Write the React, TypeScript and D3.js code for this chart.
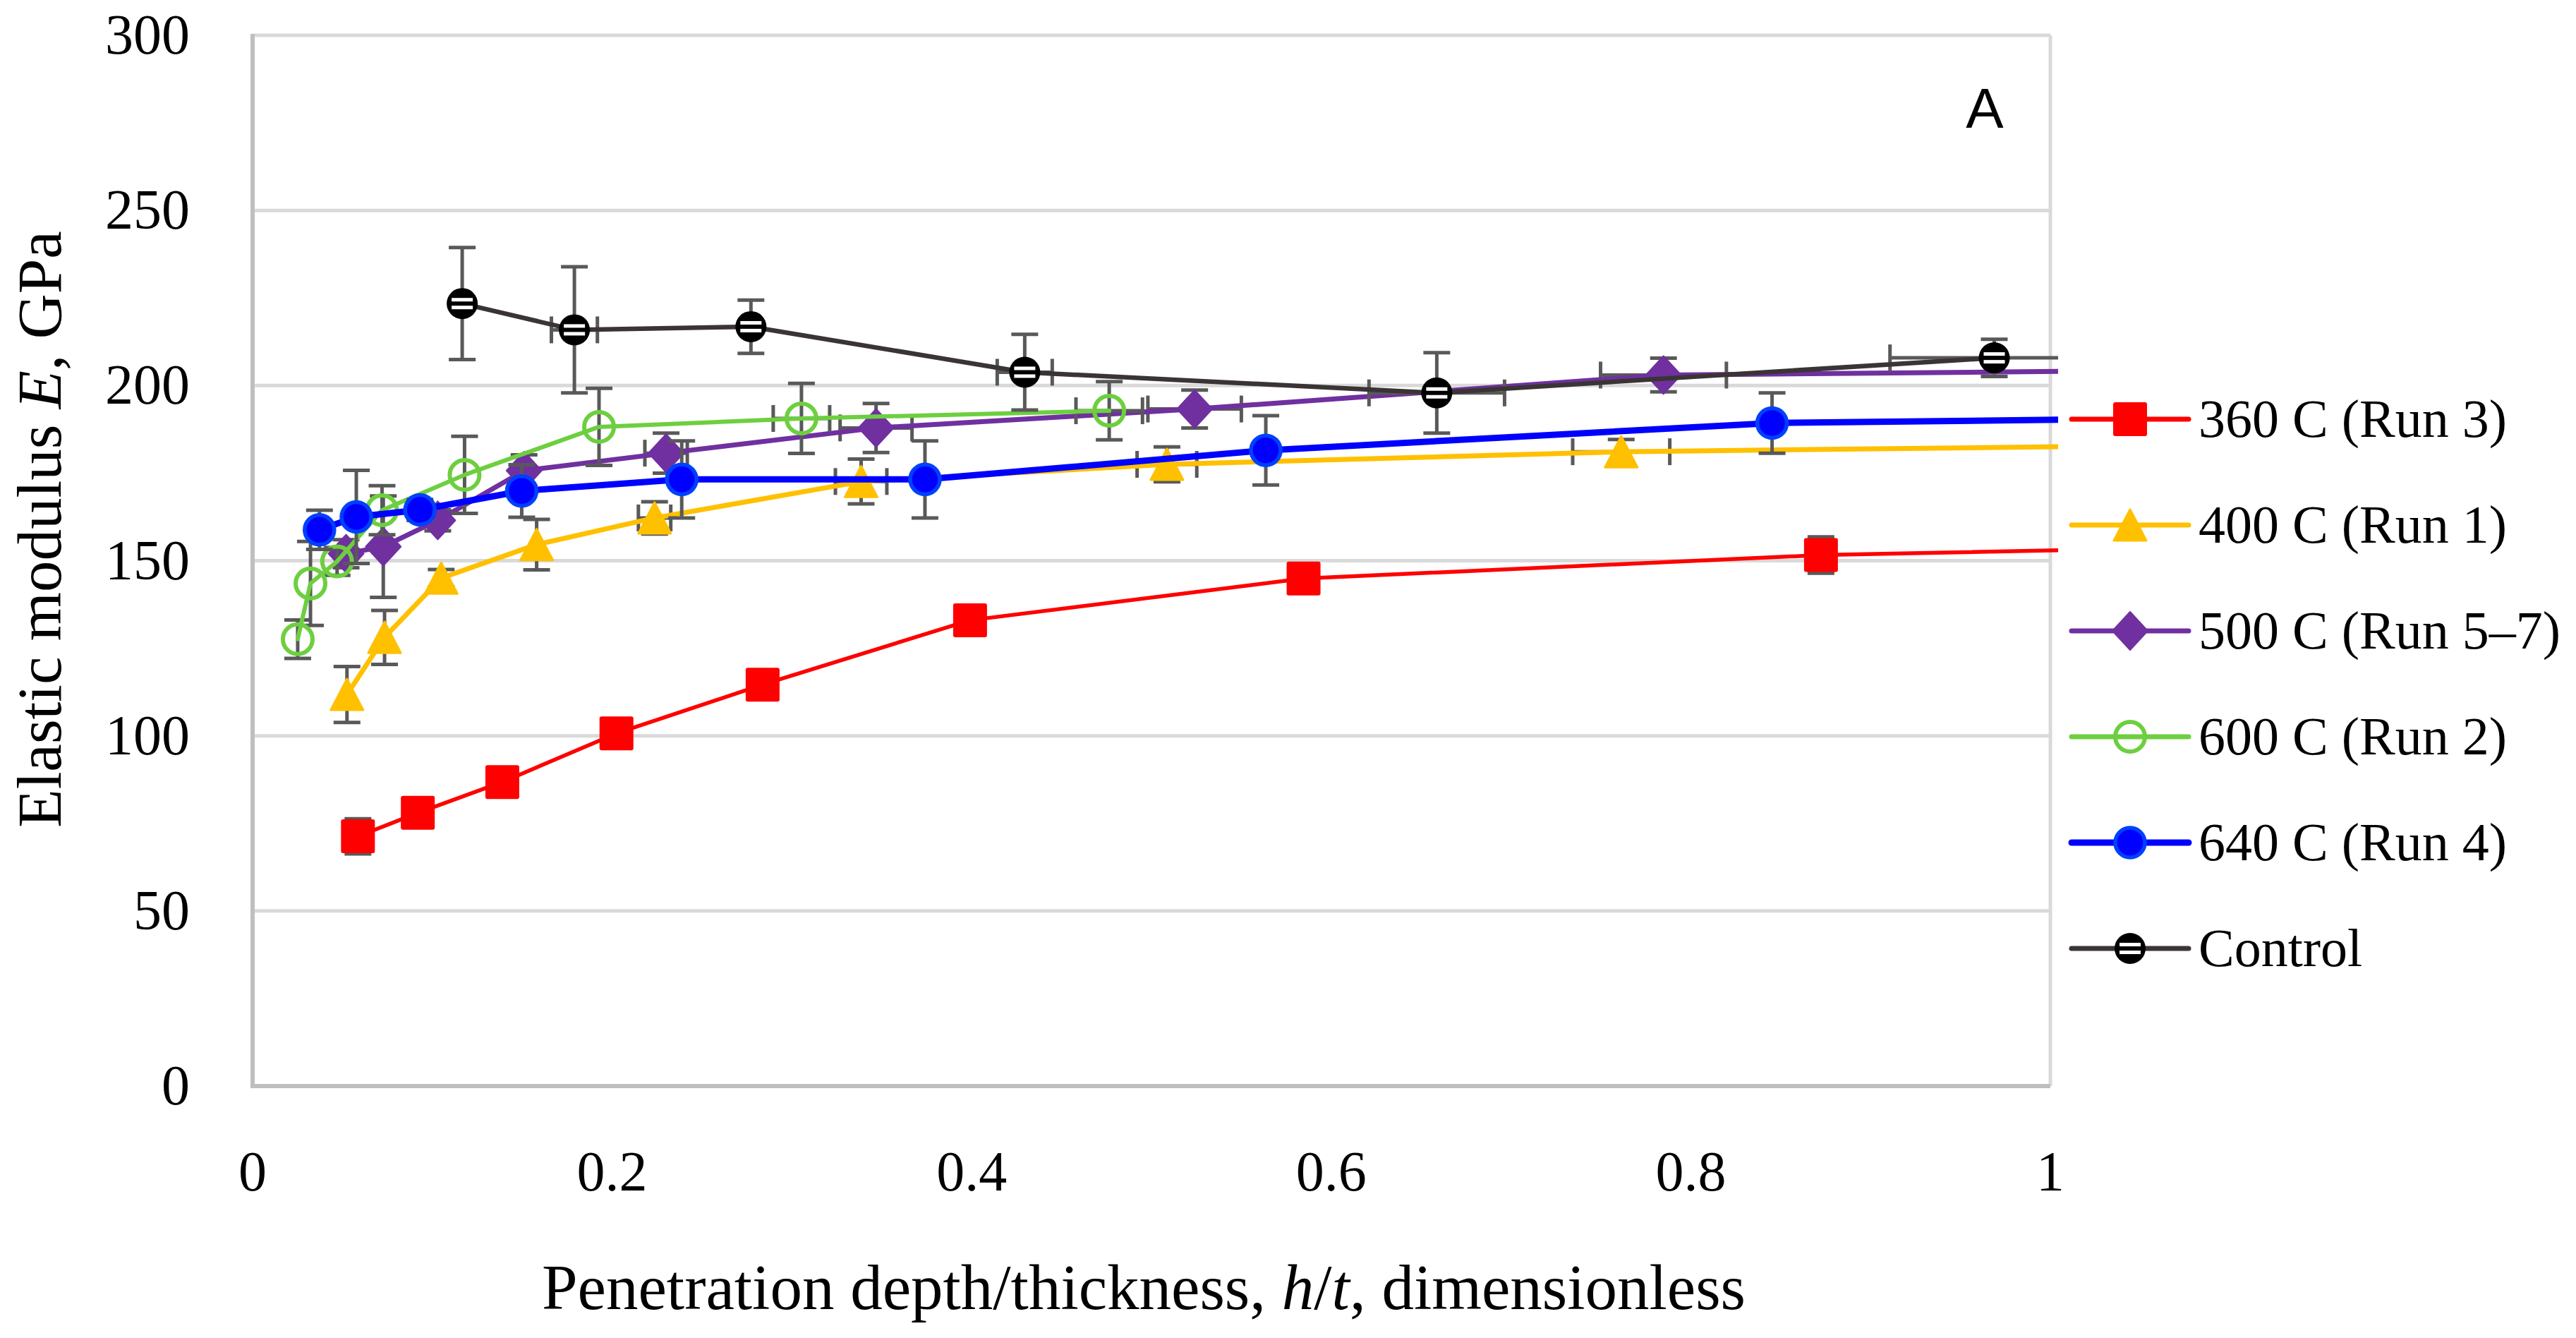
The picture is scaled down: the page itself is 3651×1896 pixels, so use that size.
import * as d3 from "d3";

// ── Data ──────────────────────────────────────────────────────
const SERIES_NAMES = ["360 C (Run 3)", "400 C (Run 1)", "500 C (Run 5–7)", "600 C (Run 2)", "640 C (Run 4)", "Control"];

// last points past h/t = 1 are clipped by the plot area, like the original
const RED_X = [0.0586, 0.0919, 0.1389, 0.2024, 0.2837, 0.3991, 0.5846, 0.8724, 1.1];
const RED_Y = [71.3, 78, 86.8, 100.7, 114.6, 133, 144.9, 151.6, 154];
const RED_YERR = [5, 2, 2, 2, 2, 2, 2, 5.2, 0];
const RED_XERR = [0, 0, 0, 0, 0, 0, 0, 0, 0];

const YEL_X = [0.0525, 0.0734, 0.1049, 0.158, 0.2236, 0.3385, 0.5086, 0.7613, 1.1];
const YEL_Y = [111.8, 128.1, 145, 154.6, 162.2, 172.6, 177.5, 181.1, 183.1];
const YEL_YERR = [8, 7.7, 2.5, 7.2, 4.6, 6.4, 5, 3.5, 0];
const YEL_XERR = [0, 0, 0, 0, 0.009, 0.0143, 0.0166, 0.027, 0];

const PUR_X = [0.052, 0.0727, 0.103, 0.151, 0.23, 0.3468, 0.524, 0.7848, 1.1];
const PUR_Y = [152, 154, 161.5, 175.7, 180.7, 187.9, 193.3, 203, 204.5];
const PUR_YERR = [4, 14.5, 3, 4.5, 5.7, 7, 5.4, 4.8, 0];
const PUR_XERR = [0, 0, 0, 0, 0.0118, 0.02, 0.026, 0.035, 0];

const GRN_X = [0.0251, 0.0322, 0.047, 0.072, 0.1179, 0.1927, 0.3053, 0.4765];
const GRN_Y = [127.6, 143.5, 149.8, 164.4, 174.5, 188.2, 190.6, 192.8];
const GRN_YERR = [5.5, 12, 4, 7, 11, 11, 10, 8.3];
const GRN_XERR = [0, 0, 0, 0, 0, 0, 0.0157, 0.0185];

const BLU_X = [0.0372, 0.0577, 0.0931, 0.1497, 0.2387, 0.374, 0.5636, 0.8452, 1.1];
const BLU_Y = [158.8, 162.5, 164.5, 169.9, 173.2, 173.2, 181.5, 189.3, 190.8];
const BLU_YERR = [5.6, 13.3, 3, 7.5, 11, 11, 9.9, 8.6, 0];
const BLU_XERR = [0, 0, 0, 0, 0, 0, 0, 0, 0];

const CTL_X = [0.1166, 0.179, 0.2772, 0.4295, 0.6587, 0.9688];
const CTL_Y = [223.4, 215.9, 216.8, 203.8, 197.9, 207.9];
const CTL_YERR = [16, 18, 7.6, 10.8, 11.5, 5.3];
const CTL_XERR = [0, 0.0128, 0, 0.0153, 0.0377, 0.058];

const X_TICKS = [0, 0.2, 0.4, 0.6, 0.8, 1];
const Y_TICKS = [0, 50, 100, 150, 200, 250, 300];

// ── Geometry ──────────────────────────────────────────────────
const W = 3651;
const H = 1896;
const PLOT = { left: 358, right: 2906, top: 50, bottom: 1539 };
const SERIF = "'Liberation Serif', 'Times New Roman', serif";
const ERR = "#595959";
const CAP = 19;

type Shape = "square" | "triangle" | "diamond" | "ring" | "dot" | "striped";

interface Series {
  name: string;
  xs: number[];
  ys: number[];
  yErr: number[];
  xErr: number[];
  color: string;
  width: number;
  shape: Shape;
}

const SERIES: Series[] = [
  { name: SERIES_NAMES[0], xs: RED_X, ys: RED_Y, yErr: RED_YERR, xErr: RED_XERR, color: "#FF0000", width: 5.5, shape: "square" },
  { name: SERIES_NAMES[1], xs: YEL_X, ys: YEL_Y, yErr: YEL_YERR, xErr: YEL_XERR, color: "#FFC000", width: 7, shape: "triangle" },
  { name: SERIES_NAMES[2], xs: PUR_X, ys: PUR_Y, yErr: PUR_YERR, xErr: PUR_XERR, color: "#7030A0", width: 7, shape: "diamond" },
  { name: SERIES_NAMES[3], xs: GRN_X, ys: GRN_Y, yErr: GRN_YERR, xErr: GRN_XERR, color: "#6DCF40", width: 6, shape: "ring" },
  { name: SERIES_NAMES[4], xs: BLU_X, ys: BLU_Y, yErr: BLU_YERR, xErr: BLU_XERR, color: "#0000FF", width: 9, shape: "dot" },
  { name: SERIES_NAMES[5], xs: CTL_X, ys: CTL_Y, yErr: CTL_YERR, xErr: CTL_XERR, color: "#3A3534", width: 6.5, shape: "striped" },
];

function Marker({ shape, cx, cy, color }: { shape: Shape; cx: number; cy: number; color: string }) {
  switch (shape) {
    case "square":
      return <rect x={cx - 24} y={cy - 24} width={48} height={48} rx={3} fill={color} />;
    case "triangle":
      return (
        <path d={`M${cx},${cy - 22} L${cx + 23},${cy + 22} L${cx - 23},${cy + 22} Z`}
          fill={color} stroke={color} strokeWidth={3} strokeLinejoin="round" />
      );
    case "diamond":
      return (
        <path d={`M${cx},${cy - 27} L${cx + 25},${cy} L${cx},${cy + 27} L${cx - 25},${cy} Z`}
          fill={color} stroke={color} strokeWidth={2} strokeLinejoin="round" />
      );
    case "ring":
      return <circle cx={cx} cy={cy} r={21} fill="none" stroke={color} strokeWidth={6} />;
    case "dot":
      return <circle cx={cx} cy={cy} r={21} fill="#0000FF" stroke="#0040FF" strokeWidth={5.5} />;
    case "striped":
      return (
        <g>
          <circle cx={cx} cy={cy} r={22} fill="#000" />
          <rect x={cx - 15} y={cy - 8} width={30} height={5} fill="#fff" />
          <rect x={cx - 15} y={cy + 3} width={30} height={5} fill="#fff" />
        </g>
      );
  }
}

export default function App() {
  const x = d3.scaleLinear().domain([0, 1]).range([PLOT.left, PLOT.right]);
  const y = d3.scaleLinear().domain([0, 300]).range([PLOT.bottom, PLOT.top]);

  const path = (s: Series) =>
    d3
      .line<number>()
      .x((v) => x(v))
      .y((_, i) => y(s.ys[i]))(s.xs) ?? "";

  const legendTop = 594;
  const legendStep = 150;

  return (
    <svg width={W} height={H} viewBox={`0 0 ${W} ${H}`}
      style={{ position: "absolute", left: 0, top: 0, background: "#fff" }}>
      <defs>
        <clipPath id="plotClip">
          <rect x={320} y={0} width={2917 - 320} height={1600} />
        </clipPath>
      </defs>
      <rect x={0} y={0} width={W} height={H} fill="#fff" />

      {/* gridlines */}
      {Y_TICKS.filter((t) => t > 0).map((t) => (
        <line key={`g-${t}`} x1={PLOT.left} x2={PLOT.right} y1={y(t)} y2={y(t)}
          stroke="#D9D9D9" strokeWidth={5} />
      ))}
      <line x1={PLOT.right} x2={PLOT.right} y1={y(300)} y2={y(0)} stroke="#D9D9D9" strokeWidth={5} />

      {/* axes */}
      <line x1={PLOT.left} x2={PLOT.right} y1={y(0)} y2={y(0)} stroke="#BFBFBF" strokeWidth={6} />
      <line x1={PLOT.left} x2={PLOT.left} y1={y(300) - 2} y2={y(0) + 3} stroke="#BFBFBF" strokeWidth={6} />

      {/* tick labels */}
      {Y_TICKS.map((t) => (
        <text key={`yt-${t}`} x={269} y={y(t) + 26} textAnchor="end"
          fontFamily={SERIF} fontSize={80} fill="#000">{t}</text>
      ))}
      {X_TICKS.map((t) => (
        <text key={`xt-${t}`} x={x(t)} y={1687} textAnchor="middle"
          fontFamily={SERIF} fontSize={80} fill="#000">{t}</text>
      ))}

      {/* axis titles */}
      <text transform="translate(86,750) rotate(-90)" textAnchor="middle"
        fontFamily={SERIF} fontSize={89} fill="#000">
        Elastic modulus <tspan fontStyle="italic">E</tspan>, GPa
      </text>
      <text x={1621} y={1855} textAnchor="middle" fontFamily={SERIF} fontSize={91} fill="#000">
        Penetration depth/thickness, <tspan fontStyle="italic">h</tspan>/<tspan fontStyle="italic">t</tspan>, dimensionless
      </text>

      <text x={2813} y={181} textAnchor="middle" fontFamily="'Liberation Sans', Arial, sans-serif"
        fontSize={80} fill="#000">A</text>

      {/* series: error bars, line, markers */}
      <g clipPath="url(#plotClip)">
        {SERIES.map((s) => (
          <g key={s.name}>
            {s.xs.map((v, i) => (
              <g key={`e-${i}`} stroke={ERR} strokeWidth={5}>
                {s.yErr[i] > 0 && (
                  <>
                    <line x1={x(v)} x2={x(v)} y1={y(s.ys[i] - s.yErr[i])} y2={y(s.ys[i] + s.yErr[i])} />
                    <line x1={x(v) - CAP} x2={x(v) + CAP} y1={y(s.ys[i] + s.yErr[i])} y2={y(s.ys[i] + s.yErr[i])} />
                    <line x1={x(v) - CAP} x2={x(v) + CAP} y1={y(s.ys[i] - s.yErr[i])} y2={y(s.ys[i] - s.yErr[i])} />
                  </>
                )}
                {s.xErr[i] > 0 && (
                  <>
                    <line x1={x(v - s.xErr[i])} x2={x(v + s.xErr[i])} y1={y(s.ys[i])} y2={y(s.ys[i])} />
                    <line x1={x(v - s.xErr[i])} x2={x(v - s.xErr[i])} y1={y(s.ys[i]) - CAP} y2={y(s.ys[i]) + CAP} />
                    <line x1={x(v + s.xErr[i])} x2={x(v + s.xErr[i])} y1={y(s.ys[i]) - CAP} y2={y(s.ys[i]) + CAP} />
                  </>
                )}
              </g>
            ))}
            <path d={path(s)} fill="none" stroke={s.color} strokeWidth={s.width}
              strokeLinejoin="round" strokeLinecap="round" />
            {s.xs.map((v, i) => (
              <Marker key={`m-${i}`} shape={s.shape} cx={x(v)} cy={y(s.ys[i])} color={s.color} />
            ))}
          </g>
        ))}
      </g>

      {/* legend */}
      {SERIES.map((s, i) => {
        const ly = legendTop + i * legendStep;
        return (
          <g key={`lg-${s.name}`}>
            <line x1={2936} x2={3102} y1={ly} y2={ly} stroke={s.color} strokeWidth={Math.max(s.width, 7)}
              strokeLinecap="round" />
            <Marker shape={s.shape} cx={3019} cy={ly} color={s.color} />
            <text x={3116} y={ly + 25} fontFamily={SERIF} fontSize={76} fill="#000">{s.name}</text>
          </g>
        );
      })}
    </svg>
  );
}
